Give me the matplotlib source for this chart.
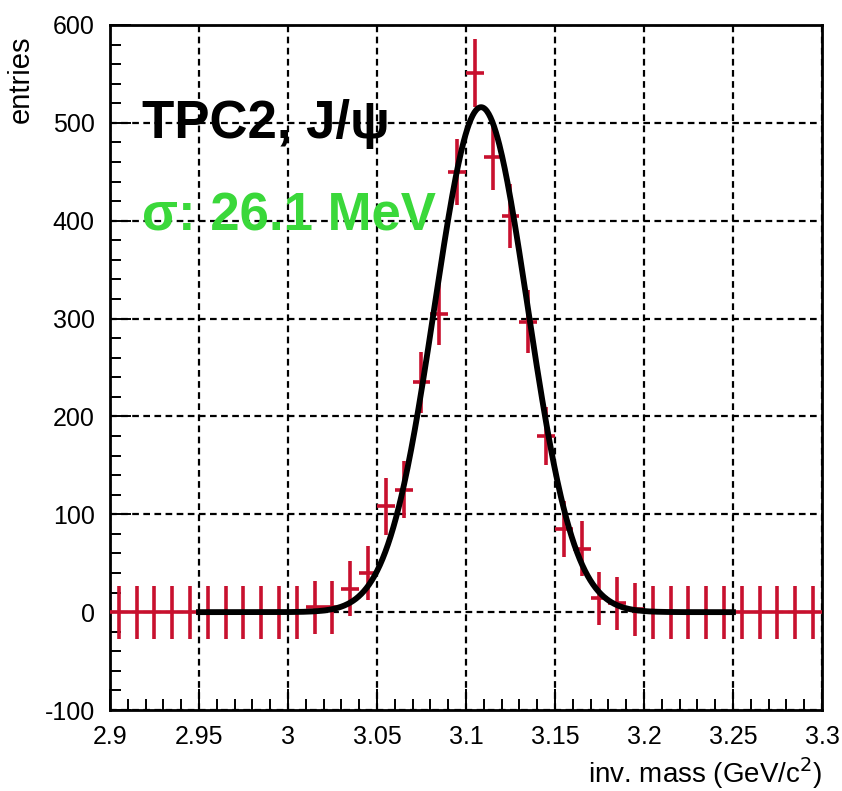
import numpy as np
import matplotlib
matplotlib.use('Agg')
import matplotlib.pyplot as plt
from matplotlib.ticker import MultipleLocator

# Bin centres of the invariant mass histogram (GeV/c^2), 0.01 wide bins
mass = [2.905, 2.915, 2.925, 2.935, 2.945, 2.955, 2.965, 2.975, 2.985, 2.995,
        3.005, 3.015, 3.025, 3.035, 3.045, 3.055, 3.065, 3.075, 3.085, 3.095,
        3.105, 3.115, 3.125, 3.135, 3.145, 3.155, 3.165, 3.175, 3.185, 3.195,
        3.205, 3.215, 3.225, 3.235, 3.245, 3.255, 3.265, 3.275, 3.285, 3.295]
# Entries per bin
entries = [0, 0, 0, 0, 0, 0, 0, 0, 0, 0,
           0, 5, 5, 24, 40, 108, 125, 235, 305, 450,
           551, 465, 405, 297, 180, 85, 65, 14, 9, 3,
           0, 0, 0, 0, 0, 0, 0, 0, 0, 0]
# Vertical error bars per bin
errors = [27, 27, 27, 27, 27, 27, 27, 27, 27, 27,
          27, 27, 27, 28, 28, 29, 29, 31, 32, 34,
          35, 34, 33, 32, 30, 29, 28, 27, 27, 27,
          27, 27, 27, 27, 27, 27, 27, 27, 27, 27]
half_bin = 0.005

# Gaussian fit result shown on the plot
fit_mean = 3.1085
fit_sigma = 0.0261
fit_amp = 516.0
fit_range = [2.95, 3.25]

x_ticks = [2.9, 2.95, 3.0, 3.05, 3.1, 3.15, 3.2, 3.25, 3.3]
x_tick_labels = ['2.9', '2.95', '3', '3.05', '3.1', '3.15', '3.2', '3.25', '3.3']
y_ticks = [-100, 0, 100, 200, 300, 400, 500, 600]

plt.rcParams['font.family'] = ['Liberation Sans', 'DejaVu Sans']
plt.rcParams['axes.unicode_minus'] = False

fig = plt.figure(figsize=(8.42, 7.91), dpi=100)
ax = fig.add_axes([0.1306, 0.1024, 0.8456, 0.866])

# Histogram points drawn as error-bar crosses
ax.errorbar(mass, entries, xerr=half_bin, yerr=errors, fmt='none',
            ecolor='#c8102e', elinewidth=2.6, capsize=0, zorder=3)

# Fit curve on top of the points
x_fit = np.linspace(fit_range[0], fit_range[1], 600)
y_fit = fit_amp * np.exp(-0.5 * ((x_fit - fit_mean) / fit_sigma) ** 2)
ax.plot(x_fit, y_fit, color='black', linewidth=4.2, zorder=4)

ax.set_xlim(2.9, 3.3)
ax.set_ylim(-100, 600)
ax.set_xticks(x_ticks)
ax.set_xticklabels(x_tick_labels)
ax.set_yticks(y_ticks)
ax.xaxis.set_minor_locator(MultipleLocator(0.01))
ax.yaxis.set_minor_locator(MultipleLocator(20))

# ROOT style ticks pointing into the frame
ax.tick_params(which='major', direction='in', length=15, width=1.4,
               labelsize=18, pad=11, top=False, right=False)
ax.tick_params(which='minor', direction='in', length=8, width=1.4,
               top=False, right=False)
for spine in ax.spines.values():
    spine.set_linewidth(2.0)

ax.grid(True, which='major', color='black', linestyle=(0, (3, 2)),
        linewidth=1.6, zorder=1)
ax.set_axisbelow(True)

ax.set_xlabel('inv. mass (GeV/c$^{2}$)', fontsize=20)
ax.xaxis.set_label_coords(1.0, -0.066)
ax.xaxis.label.set_horizontalalignment('right')
ax.xaxis.label.set_verticalalignment('top')
ax.set_ylabel('entries', fontsize=21)
ax.yaxis.set_label_coords(-0.125, 0.985)
ax.yaxis.label.set_verticalalignment('center')
ax.yaxis.label.set_horizontalalignment('right')

ax.text(2.918, 485, 'TPC2, J/ψ', fontsize=38, fontweight='bold',
        color='black', ha='left', va='baseline', zorder=5)
ax.text(2.918, 390, 'σ: 26.1 MeV', fontsize=38, fontweight='bold',
        color='#3ad83a', ha='left', va='baseline', zorder=5)

plt.savefig('out.png', dpi=100)
